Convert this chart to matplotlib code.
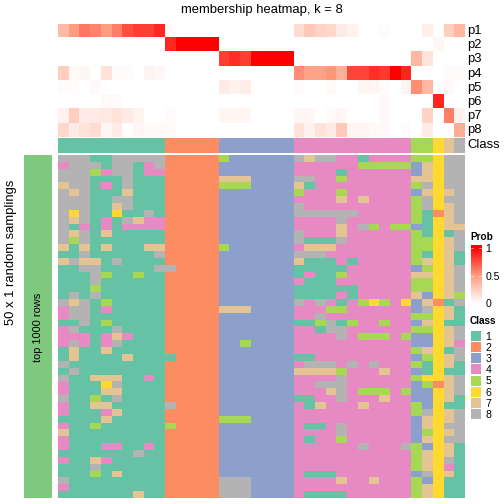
import numpy as np
import matplotlib
matplotlib.use('Agg')
import matplotlib.pyplot as plt
from matplotlib.colors import ListedColormap, LinearSegmentedColormap
from matplotlib.patches import Rectangle

plt.rcParams['font.family'] = ['Liberation Sans', 'DejaVu Sans']

# membership probabilities, one list per row, 38 columns
p1 = [.35,.5,.62,.58,.5,.6,.75,.8,.8,.87,.02,0,0,0,0,0,0,0,0,0,0,0,.18,.28,.22,.2,.1,.07,0,0,.02,0,0,0,.08,0,.25,.37]
p2 = [0,0,0,0,0,0,0,0,0,0,.87,1,1,1,1,0,0,0,0,0,0,0,0,0,0,0,0,0,0,0,0,0,0,0,0,.04,0,0]
p3 = [0,0,0,0,0,0,0,0,0,0,0,0,0,0,0,.8,.85,.8,1,1,1,1,0,0,0,0,0,0,0,0,0,0,0,.37,.14,0,0,0]
p4 = [.25,.03,.04,0,.15,.02,.02,0,.06,.04,0,0,0,0,0,0,0,0,0,0,0,0,.55,.47,.47,.52,.4,.78,.78,.85,.82,1,.88,0,0,0,.02,.02]
p5 = [.02,.02,0,.03,0,0,0,0,0,0,0,0,0,0,0,.1,.07,.09,0,0,0,0,.02,0,0,.03,0,0,.05,.05,.02,0,.05,.55,.37,0,.03,0]
p6 = [0,.01,0,0,.03,.02,0,0,0,0,0,0,0,0,0,0,0,0,0,0,0,0,0,0,0,0,0,0,.01,0,.03,0,0,0,.01,.88,0,0]
p7 = [.07,.25,.1,.1,.12,.15,.1,.06,0,0,.02,0,0,0,0,.05,.05,.05,0,0,0,0,.04,.04,0,.03,.04,0,0,0,.03,0,0,0,.22,0,.6,.07]
p8 = [.2,.1,.15,.18,.05,.1,.01,.04,.03,.03,.03,0,0,0,0,0,0,0,0,0,0,0,.15,.07,.15,.1,.28,.05,.05,.03,.03,0,.02,0,.1,0,.01,.42]
prob_labels = ['p1','p2','p3','p4','p5','p6','p7','p8']

# class of each column
col_class = [1]*10 + [2]*5 + [3]*7 + [4]*11 + [5]*2 + [6] + [7] + [8]

# class of each sampling (50 rows), split in blocks by column group
rows_c1 = [
 "8881188888","4888188148","8885488144","8881118111","7881418111",
 "8781117111","8881188111","8881178111","8681161181","8781418744",
 "8141414444","8781711111","8581111111","7171711177","1181111118",
 "7877181111","1188111118","1118511511","1118111111","1115111111",
 "1818111111","8781511111","4881411111","4881111111","1181511111",
 "4811181111","4441474111","4841481111","1711711111","1711117111",
 "8111111111","1811111111","8117771141","4111681111","4111771111",
 "8115181111","4117711111","4111471111","1111711111","4115111111",
 "7111111111","4111111111","4111441141","1111111811","4117411111",
 "1118111111","1115171111","8111111111","4111111111","1111111711"]
rows_c2 = [
 "22222"]*16 + ["82222"] + ["22222"]*12 + ["12222"] + ["22222"]*6 + ["82222"] + ["22222"]*2 + ["52222"] + ["22222"]*10
rows_c3 = [
 "5333333","3333333","3333333","7773333","5553333","3333333","3333333","3333333","3333333","3333333",
 "3333333","3333333","3333333","5333333","3333333","3333333","3333333","3333333","3333333","3333333",
 "3333333","3333333","7773333","3333333","3333333","3333333","3333333","3353333","3333333","3333333",
 "3333333","3333333","3333333","3333333","3333333","3333333","3333333","3333333","5553333","3333333",
 "3333333","3333333","3333333","3333333","3333333","3333333","3333333","8883333","8883333","8883333"]
rows_c4 = [
 "87884414444","44444455555","44441444444","88445444444","71444444444",
 "54445444444","44447474444","84444444444","88888844444","44448444444",
 "44447485455","84447444444","81118444444","47774444444","88844444444",
 "71114144444","11111444444","14115444444","41114444444","11111144444",
 "11114144444","84841456546","44455444444","44844444444","11581544544",
 "44188444444","44448455545","44444444444","44444444444","11444444444",
 "48884848444","77775444744","44448444444","44888444444","44478455545",
 "11448444744","41744474444","44444444444","44444444444","41148444444",
 "44448444444","41445444444","44444484448","44444444444","44444444444",
 "44444444444","41114444444","44447447444","44444444444","41111444444"]
rows_c5_8 = [
 "55688","37688","37688","77688","58688",
 "37678","58688","58678","51278","51678",
 "31677","51618","55678","55678","51671",
 "57671","35678","77678","55678","55678",
 "73675","37218","38671","55671","37611",
 "55678","33678","33674","57618","35678",
 "51671","31611","56678","35278","33678",
 "33671","53611","58678","37678","37688",
 "35678","37688","53671","57671","57681",
 "57641","38671","53611","57611","57611"]

class_colors = ['#66C2A5','#FC8D62','#8DA0CB','#E78AC3','#A6D854','#FFD92F','#E5C494','#B3B3B3']
class_labels = ['1','2','3','4','5','6','7','8']
left_color = '#7FC97F'

W = 504.0
cmap_class = ListedColormap(class_colors)
cmap_prob = LinearSegmentedColormap.from_list('prob', ['#FFFFFF','#FF9E81','#FF0000'])

def px_axes(fig, x0, y0, x1, y1):
  # pixel box, y counted from the top
  ax = fig.add_axes([x0/W, 1-y1/W, (x1-x0)/W, (y1-y0)/W])
  ax.set_axis_off()
  return ax

fig = plt.figure(figsize=(7,7), dpi=72)

# probabilities
ax = px_axes(fig, 58, 24, 465, 137.5)
probs = np.array([p1,p2,p3,p4,p5,p6,p7,p8])
ax.imshow(probs, cmap=cmap_prob, vmin=0, vmax=1, aspect='auto', interpolation='nearest')
for i in range(8):
  fig.text(467.5/W, 1-(24+14.17*(i+0.5))/W, prob_labels[i], fontsize=13, va='center', ha='left')

# class bar
ax = px_axes(fig, 58, 138, 465, 153)
ax.imshow(np.array([col_class]), cmap=cmap_class, vmin=0.5, vmax=8.5, aspect='auto', interpolation='nearest')
fig.text(467.5/W, 1-145.5/W, 'Class', fontsize=13, va='center', ha='left')

# main heatmap
rows = [rows_c1[i]+rows_c2[i]+rows_c3[i]+rows_c4[i]+rows_c5_8[i] for i in range(50)]
mat = np.array([[int(c) for c in r] for r in rows])
ax = px_axes(fig, 58, 155, 465, 498)
ax.imshow(mat, cmap=cmap_class, vmin=0.5, vmax=8.5, aspect='auto', interpolation='nearest')

# left strip
ax = px_axes(fig, 24, 155, 52, 498)
ax.add_patch(Rectangle((0,0), 1, 1, color=left_color, transform=ax.transAxes, lw=0))
fig.text(38/W, 1-327/W, 'top 1000 rows', fontsize=11, rotation=90, va='center', ha='center')
fig.text(11/W, 1-252/W, '50 x 1 random samplings', fontsize=13, rotation=90, va='center', ha='center')

fig.text(262/W, 1-10/W, 'membership heatmap, k = 8', fontsize=13, va='center', ha='center')

# Prob legend
ax = px_axes(fig, 470.5, 245, 481.5, 304)
ax.imshow(np.linspace(1.04,0,128).reshape(-1,1), cmap=cmap_prob, vmin=0, vmax=1, aspect='auto')
ax.set_xlim(0,1)
ax.set_ylim(304,245)
ax.images[0].set_extent((0,1,304,245))
for y in [247.5, 275.5]:
  ax.plot([0,0.2],[y,y], color='white', lw=0.8, alpha=.6)
  ax.plot([0.8,1],[y,y], color='white', lw=0.8, alpha=.6)
fig.text(470/W, 1-237/W, 'Prob', fontsize=10, fontweight='bold', va='center', ha='left')
fig.text(485.5/W, 1-248.5/W, '1', fontsize=10.5, va='center', ha='left')
fig.text(485.5/W, 1-276.5/W, '0.5', fontsize=10.5, va='center', ha='left')
fig.text(485.5/W, 1-304/W, '0', fontsize=10.5, va='center', ha='left')

# Class legend
fig.text(470/W, 1-321/W, 'Class', fontsize=10, fontweight='bold', va='center', ha='left')
for i in range(8):
  y0 = 330 + 11.2*i
  ax = px_axes(fig, 470.7, y0+0.7, 481.3, y0+10.7)
  ax.add_patch(Rectangle((0,0), 1, 1, color=class_colors[i], transform=ax.transAxes, lw=0))
  fig.text(485.5/W, 1-(y0+6.5)/W, class_labels[i], fontsize=10.5, va='center', ha='left')

plt.savefig('out.png', dpi=72)
